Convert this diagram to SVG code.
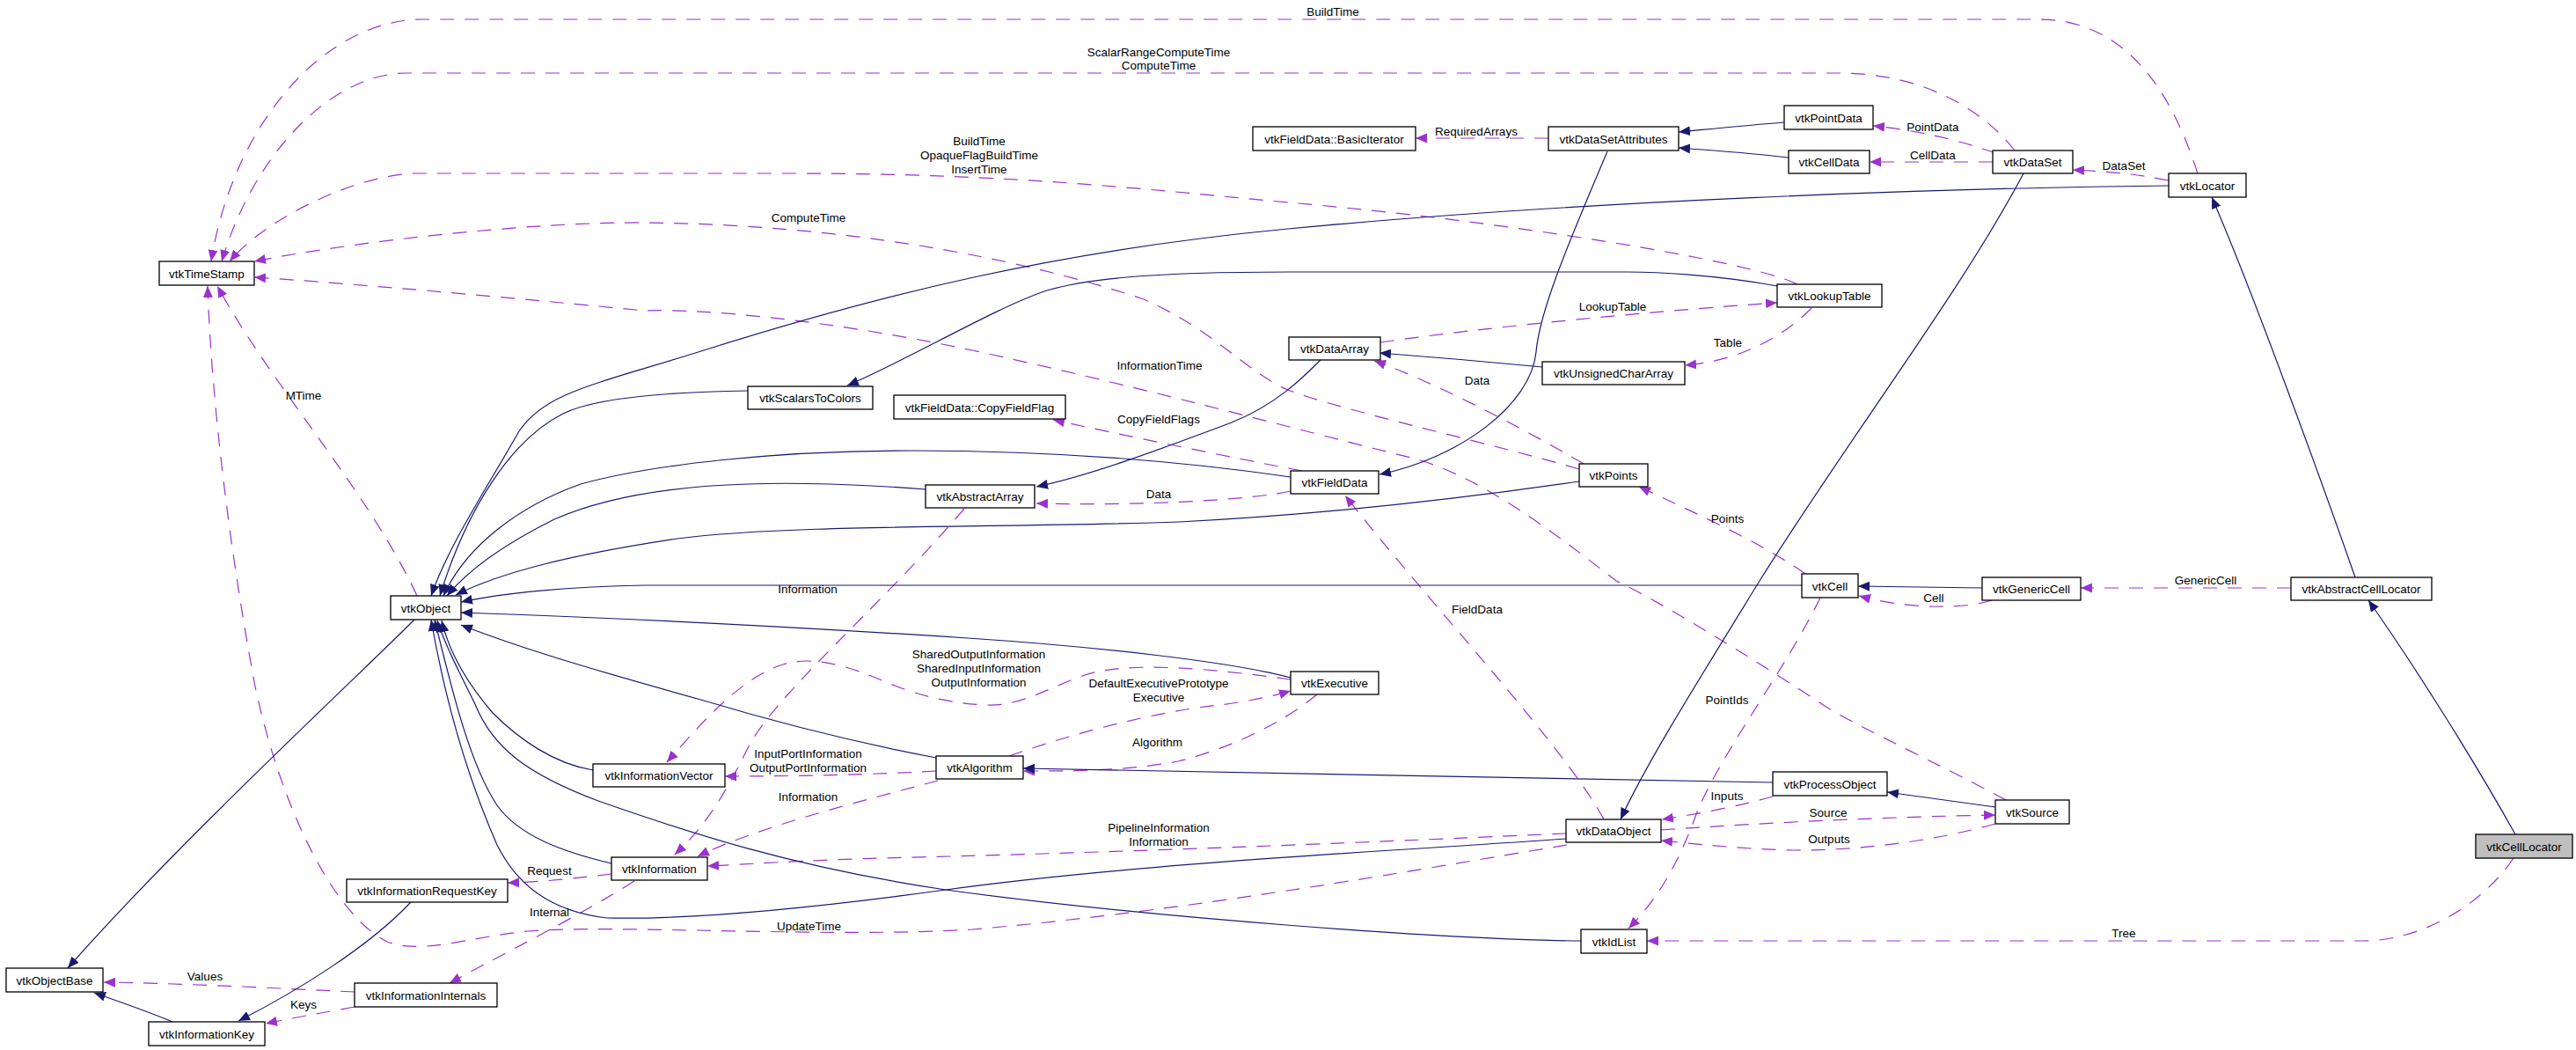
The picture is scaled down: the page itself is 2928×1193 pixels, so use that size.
<svg xmlns="http://www.w3.org/2000/svg" width="2928" height="1193" viewBox="0 0 2928 1193">
<style>
.n rect{fill:#fff;stroke:#000;stroke-width:1.3}
.n.t rect{fill:#bfbfbf}
text{font-family:"Liberation Sans",Arial,sans-serif;font-size:13.5px;text-anchor:middle;fill:#000}
.i{fill:none;stroke:#191970;stroke-width:1.2;marker-end:url(#ai)}
.u{fill:none;stroke:#9a32cd;stroke-width:1.2;stroke-dasharray:16 12;marker-end:url(#au)}
</style>
<defs>
<marker id="ai" markerUnits="userSpaceOnUse" markerWidth="14" markerHeight="12" refX="13" refY="6" orient="auto" viewBox="0 0 14 12"><path d="M0,0.5 L13,6 L0,11.5 z" fill="#191970"/></marker>
<marker id="au" markerUnits="userSpaceOnUse" markerWidth="14" markerHeight="12" refX="13" refY="6" orient="auto" viewBox="0 0 14 12"><path d="M0,0.5 L13,6 L0,11.5 z" fill="#9a32cd"/></marker>
</defs>
<rect width="2928" height="1193" fill="#fff"/>
<g id="edges">
<!-- usage edges -->
<path class="u" d="M2498,197 C2470,110 2420,22 2317,22 L480,22 C370,22 265,140 240,297"/>
<path class="u" d="M2290,171 C2250,120 2180,83 2090,83 L462,83 C380,83 290,170 252,297"/>
<path class="u" d="M2043,323 C1990,296 1700,250 1464,230 C1300,215 1150,197 900,197 L471,197 C400,200 300,250 261,297"/>
<path class="u" d="M1795,533 C1700,505 1520,465 1464,443 C1420,425 1380,375 1300,340 C1150,290 950,255 732,253 C600,252 400,275 289,297"/>
<path class="u" d="M2280,909 C2200,866 2100,820 2071,800 C1980,740 1880,680 1837,660 C1760,600 1680,540 1604,520 C1500,495 1300,440 1105,398 C950,365 800,350 732,353 C600,340 400,322 289,315"/>
<path class="u" d="M1760,157 L1609,157"/>
<path class="u" d="M2268,174 C2230,160 2180,148 2129,143"/>
<path class="u" d="M2265,184 L2125,184"/>
<path class="u" d="M2465,205 C2430,198 2400,195 2356,193"/>
<path class="u" d="M1569,389 C1700,370 1900,352 2020,344"/>
<path class="u" d="M2059,350 C2030,380 1980,410 1915,415"/>
<path class="u" d="M1800,527 C1720,480 1620,430 1562,410"/>
<path class="u" d="M1480,535 C1400,520 1280,495 1197,477"/>
<path class="u" d="M1467,558 C1420,568 1300,575 1178,572"/>
<path class="u" d="M1096,578 C1000,690 880,790 850,850 C820,910 800,940 767,971"/>
<path class="u" d="M1467,772 C1380,760 1280,750 1230,768 C1190,782 1160,803 1120,801 C1070,799 1030,785 1000,772 C960,755 920,745 890,755 C840,770 790,830 758,866"/>
<path class="u" d="M1147,859 C1200,840 1300,810 1386,801 C1420,797 1450,790 1467,785"/>
<path class="u" d="M1497,789 C1460,820 1400,850 1339,865 C1280,876 1220,876 1163,876"/>
<path class="u" d="M1064,876 C1000,880 900,882 824,882"/>
<path class="u" d="M1066,887 C980,910 860,940 793,973"/>
<path class="u" d="M1780,947 C1600,955 1300,968 1000,975 C900,978 850,982 804,984"/>
<path class="u" d="M1781,960 C1600,990 1350,1035 1105,1056 C950,1066 700,1050 600,1058 C530,1065 480,1085 440,1070 C380,1040 320,920 290,780 C260,620 240,450 236,325"/>
<path class="u" d="M474,677 C420,560 310,440 247,325"/>
<path class="u" d="M2052,652 C2000,615 1920,580 1863,553"/>
<path class="u" d="M2264,682 C2240,690 2180,695 2113,677"/>
<path class="u" d="M2604,668 L2365,668"/>
<path class="u" d="M2069,679 C2030,760 1960,850 1930,920 C1905,990 1880,1025 1851,1055"/>
<path class="u" d="M1823,931 C1780,850 1620,680 1529,563"/>
<path class="u" d="M2015,905 C1980,915 1930,925 1889,931"/>
<path class="u" d="M1888,943 C2000,935 2150,928 2268,926"/>
<path class="u" d="M2268,936 C2200,955 2120,966 2040,966 C1980,965 1920,958 1888,955"/>
<path class="u" d="M2857,975 C2820,1030 2750,1069 2686,1069 L1872,1069"/>
<path class="u" d="M695,993 C660,997 620,1002 577,1003"/>
<path class="u" d="M721,1001 C660,1040 560,1090 511,1117"/>
<path class="u" d="M403,1127 C320,1123 200,1117 118,1116"/>
<path class="u" d="M403,1144 C370,1150 330,1157 302,1163"/>
<!-- inheritance edges -->
<path class="i" d="M1827,172 C1790,260 1750,350 1746,400 C1740,460 1660,520 1568,539"/>
<path class="i" d="M2028,139 C1990,142 1950,146 1908,150"/>
<path class="i" d="M2033,179 C1990,174 1950,171 1908,168"/>
<path class="i" d="M2300,197 C2230,330 2100,500 2000,660 C1920,790 1870,870 1842,931"/>
<path class="i" d="M2465,211 C2200,214 1800,228 1464,260 C1200,285 1000,335 800,398 C680,436 620,445 590,490 C550,560 510,620 490,677"/>
<path class="i" d="M2020,325 C1950,312 1880,309 1850,309 L1464,309 C1300,309 1230,318 1190,330 C1130,350 1030,410 963,438"/>
<path class="i" d="M850,444 C780,445 680,450 640,470 C580,500 530,580 500,677"/>
<path class="i" d="M1501,409 C1480,430 1450,460 1400,480 C1320,510 1240,540 1178,553"/>
<path class="i" d="M1753,417 C1680,410 1620,405 1568,401"/>
<path class="i" d="M1467,542 C1350,525 1200,512 1035,512 C880,512 740,528 660,550 C590,575 530,620 504,677"/>
<path class="i" d="M1052,556 C980,550 900,548 850,550 C750,553 680,568 630,590 C570,620 530,650 508,677"/>
<path class="i" d="M1795,547 C1650,568 1500,585 1340,593 C1150,600 900,595 770,612 C650,630 570,650 518,676"/>
<path class="i" d="M2048,665 L732,665 C650,666 570,674 524,684"/>
<path class="i" d="M2253,668 L2112,666"/>
<path class="i" d="M1467,770 C1400,752 1250,735 1100,725 C900,712 700,702 524,696"/>
<path class="i" d="M1064,861 C980,845 880,820 800,796 C700,768 600,740 524,710"/>
<path class="i" d="M674,875 C630,868 590,840 560,810 C530,775 510,740 502,705"/>
<path class="i" d="M1797,1069 C1650,1068 1300,1042 1075,1011 C900,985 780,945 680,910 C600,880 560,850 540,800 C520,760 505,730 497,705"/>
<path class="i" d="M695,981 C640,968 590,950 565,915 C535,870 515,790 494,704"/>
<path class="i" d="M1780,953 C1600,966 1300,980 1075,1011 C900,1035 780,1045 690,1043 C620,1035 585,1000 565,960 C530,880 505,790 490,704"/>
<path class="i" d="M471,704 C400,775 200,960 77,1100"/>
<path class="i" d="M196,1161 C170,1150 130,1136 107,1128"/>
<path class="i" d="M467,1025 C420,1075 340,1125 271,1160"/>
<path class="i" d="M2677,656 C2640,550 2560,330 2514,224"/>
<path class="i" d="M2859,948 C2810,860 2740,750 2692,682"/>
<path class="i" d="M2015,889 C1800,885 1500,878 1163,873"/>
<path class="i" d="M2268,917 C2220,910 2180,905 2145,900"/>
</g>
<g id="edge-labels">
<text x="1515" y="17.5">BuildTime</text>
<text x="1317" y="63.5">ScalarRangeComputeTime</text>
<text x="1317" y="79">ComputeTime</text>
<text x="1113" y="164.5">BuildTime</text>
<text x="1113" y="180.5">OpaqueFlagBuildTime</text>
<text x="1113" y="196.5">InsertTime</text>
<text x="919" y="251.5">ComputeTime</text>
<text x="1678" y="153.5">RequiredArrays</text>
<text x="2197" y="148.5">PointData</text>
<text x="2197" y="180.5">CellData</text>
<text x="2414" y="192.5">DataSet</text>
<text x="1833" y="352.5">LookupTable</text>
<text x="1964" y="393.5">Table</text>
<text x="1318" y="419.5">InformationTime</text>
<text x="1679" y="436.5">Data</text>
<text x="1317" y="480.5">CopyFieldFlags</text>
<text x="345" y="453.5">MTime</text>
<text x="1317" y="566">Data</text>
<text x="1963.5" y="593.5">Points</text>
<text x="2507" y="664">GenericCell</text>
<text x="918" y="673.5">Information</text>
<text x="1679" y="696.5">FieldData</text>
<text x="2198" y="684">Cell</text>
<text x="1112.5" y="747.5">SharedOutputInformation</text>
<text x="1112.5" y="763.5">SharedInputInformation</text>
<text x="1112.5" y="779.5">OutputInformation</text>
<text x="1317" y="780.5">DefaultExecutivePrototype</text>
<text x="1317" y="796.5">Executive</text>
<text x="1963" y="800">PointIds</text>
<text x="1315.5" y="847.5">Algorithm</text>
<text x="918.5" y="860.5">InputPortInformation</text>
<text x="918.5" y="876.5">OutputPortInformation</text>
<text x="1963" y="908.5">Inputs</text>
<text x="918.5" y="909.5">Information</text>
<text x="2078" y="928">Source</text>
<text x="1317" y="944.5">PipelineInformation</text>
<text x="1317" y="960.5">Information</text>
<text x="2079" y="957.5">Outputs</text>
<text x="624.5" y="994">Request</text>
<text x="624.5" y="1040.5">Internal</text>
<text x="919.5" y="1056.5">UpdateTime</text>
<text x="2414" y="1065">Tree</text>
<text x="233" y="1113.5">Values</text>
<text x="345" y="1145.5">Keys</text>
</g>
<g id="vtkTimeStamp" class="n"><rect x="181" y="297" width="108" height="27"/><text x="235" y="315.5">vtkTimeStamp</text></g>
<g id="vtkFieldData_BasicIterator" class="n"><rect x="1424" y="144" width="185" height="27"/><text x="1516.5" y="162.5">vtkFieldData::BasicIterator</text></g>
<g id="vtkDataSetAttributes" class="n"><rect x="1760" y="144" width="148" height="27"/><text x="1834" y="162.5">vtkDataSetAttributes</text></g>
<g id="vtkPointData" class="n"><rect x="2028" y="120" width="101" height="27"/><text x="2078.5" y="138.5">vtkPointData</text></g>
<g id="vtkCellData" class="n"><rect x="2033" y="171" width="92" height="26"/><text x="2079" y="189">vtkCellData</text></g>
<g id="vtkDataSet" class="n"><rect x="2265" y="171" width="91" height="26"/><text x="2310.5" y="189">vtkDataSet</text></g>
<g id="vtkLocator" class="n"><rect x="2465" y="197" width="88" height="27"/><text x="2509" y="215.5">vtkLocator</text></g>
<g id="vtkLookupTable" class="n"><rect x="2020" y="323" width="119" height="26"/><text x="2079.5" y="341">vtkLookupTable</text></g>
<g id="vtkDataArray" class="n"><rect x="1465" y="383" width="104" height="26"/><text x="1517" y="401">vtkDataArray</text></g>
<g id="vtkScalarsToColors" class="n"><rect x="850" y="439" width="142" height="26"/><text x="921" y="457">vtkScalarsToColors</text></g>
<g id="vtkUnsignedCharArray" class="n"><rect x="1753" y="411" width="162" height="26"/><text x="1834" y="429">vtkUnsignedCharArray</text></g>
<g id="vtkFieldData_CopyFieldFlag" class="n"><rect x="1016" y="449" width="195" height="27"/><text x="1113.5" y="467.5">vtkFieldData::CopyFieldFlag</text></g>
<g id="vtkAbstractArray" class="n"><rect x="1052" y="551" width="124" height="26"/><text x="1114" y="569">vtkAbstractArray</text></g>
<g id="vtkFieldData" class="n"><rect x="1467" y="535" width="100" height="26"/><text x="1517" y="553">vtkFieldData</text></g>
<g id="vtkPoints" class="n"><rect x="1795" y="527" width="78" height="26"/><text x="1834" y="545">vtkPoints</text></g>
<g id="vtkObject" class="n"><rect x="444" y="677" width="80" height="27"/><text x="484" y="695.5">vtkObject</text></g>
<g id="vtkCell" class="n"><rect x="2048" y="652" width="64" height="27"/><text x="2080" y="670.5">vtkCell</text></g>
<g id="vtkGenericCell" class="n"><rect x="2253" y="656" width="112" height="26"/><text x="2309" y="674">vtkGenericCell</text></g>
<g id="vtkAbstractCellLocator" class="n"><rect x="2604" y="656" width="160" height="26"/><text x="2684" y="674">vtkAbstractCellLocator</text></g>
<g id="vtkExecutive" class="n"><rect x="1467" y="763" width="100" height="26"/><text x="1517" y="781">vtkExecutive</text></g>
<g id="vtkInformationVector" class="n"><rect x="674" y="868" width="150" height="26"/><text x="749" y="886">vtkInformationVector</text></g>
<g id="vtkAlgorithm" class="n"><rect x="1064" y="859" width="99" height="26"/><text x="1113.5" y="877">vtkAlgorithm</text></g>
<g id="vtkInformation" class="n"><rect x="695" y="974" width="109" height="26"/><text x="749.5" y="992">vtkInformation</text></g>
<g id="vtkInformationRequestKey" class="n"><rect x="394" y="999" width="183" height="26"/><text x="485.5" y="1017">vtkInformationRequestKey</text></g>
<g id="vtkObjectBase" class="n"><rect x="7" y="1100" width="110" height="27"/><text x="62" y="1118.5">vtkObjectBase</text></g>
<g id="vtkInformationKey" class="n"><rect x="169" y="1161" width="132" height="27"/><text x="235" y="1179.5">vtkInformationKey</text></g>
<g id="vtkInformationInternals" class="n"><rect x="403" y="1117" width="162" height="27"/><text x="484" y="1135.5">vtkInformationInternals</text></g>
<g id="vtkProcessObject" class="n"><rect x="2015" y="877" width="130" height="27"/><text x="2080" y="895.5">vtkProcessObject</text></g>
<g id="vtkDataObject" class="n"><rect x="1780" y="931" width="108" height="26"/><text x="1834" y="949">vtkDataObject</text></g>
<g id="vtkIdList" class="n"><rect x="1797" y="1056" width="75" height="27"/><text x="1834.5" y="1074.5">vtkIdList</text></g>
<g id="vtkSource" class="n"><rect x="2268" y="909" width="84" height="27"/><text x="2310" y="927.5">vtkSource</text></g>
<g id="vtkCellLocator" class="n t"><rect x="2814" y="948" width="110" height="27"/><text x="2869" y="966.5">vtkCellLocator</text></g>
</svg>
